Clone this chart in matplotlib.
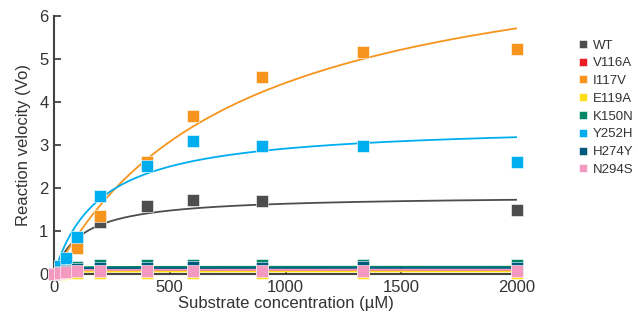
import matplotlib
matplotlib.use("Agg")
from matplotlib import pyplot as plt
import numpy as np

plt.rcParams["font.family"] = ["Liberation Sans", "DejaVu Sans"]
plt.rcParams["text.color"] = "#333333"
plt.rcParams["axes.labelcolor"] = "#333333"
plt.rcParams["xtick.color"] = "#333333"
plt.rcParams["ytick.color"] = "#333333"

# substrate concentrations (uM)
substrate = [0, 25, 50, 100, 200, 400, 600, 900, 1333, 2000]

variants = ["WT", "V116A", "I117V", "E119A", "K150N", "Y252H", "H274Y", "N294S"]
colors = ["#4d4d4d", "#ed1c24", "#f7941d", "#ffde17", "#00876a", "#00aeef", "#005a80", "#f49ac1"]

# measured reaction velocities (Vo)
wt    = [0, 0.15, 0.35, 0.75, 1.2, 1.58, 1.72, 1.7, np.nan, 1.5]
v116a = [0, 0.02, 0.04, 0.05, 0.05, 0.05, 0.06, 0.05, 0.06, 0.05]
i117v = [0, 0.12, 0.3, 0.6, 1.35, 2.6, 3.67, 4.57, 5.17, 5.23]
e119a = [0, 0.01, 0.02, 0.02, 0.02, 0.02, 0.02, 0.02, 0.02, 0.02]
k150n = [0, 0.05, 0.1, 0.16, 0.21, 0.21, 0.22, 0.21, 0.22, 0.21]
y252h = [0, 0.18, 0.37, 0.85, 1.81, 2.52, 3.09, 2.98, 2.98, 2.6]
h274y = [0, 0.04, 0.08, 0.12, 0.15, 0.15, 0.16, 0.15, 0.16, 0.15]
n294s = [0, 0.02, 0.05, 0.07, 0.08, 0.08, 0.08, 0.08, 0.08, 0.08]
velocities = [wt, v116a, i117v, e119a, k150n, y252h, h274y, n294s]

# Michaelis-Menten fit parameters (Vmax, Km)
vmax = [1.83, 0.08, 8.0, 0.06, 0.17, 3.5, 0.14, 0.1]
km = [120, 10, 800, 10, 10, 200, 10, 10]

fig = plt.figure(figsize=(6.38, 3.22), dpi=100)
ax = fig.add_axes([54 / 638, 48 / 322, 463 / 638, 258 / 322])

s_fit = np.linspace(0, 2000, 400)
for name, color, v, vm, k in zip(variants, colors, velocities, vmax, km):
    ax.plot(s_fit, vm * s_fit / (k + s_fit), color=color, lw=1.3, zorder=2)
for name, color, v in zip(variants, colors, velocities):
    ax.plot(substrate, v, "s", color=color, ms=8, mec="white", mew=0.4,
            label=name, clip_on=False, zorder=3)

ax.set_xlim(0, 2000)
ax.set_ylim(0, 6)
ax.set_xticks([0, 500, 1000, 1500, 2000])
ax.set_yticks([0, 1, 2, 3, 4, 5, 6])
ax.tick_params(direction="in", length=5, width=1.2, labelsize=12, pad=4)
for side in ["top", "right"]:
    ax.spines[side].set_visible(False)
for side in ["left", "bottom"]:
    ax.spines[side].set_color("#444444")
    ax.spines[side].set_linewidth(1.5)
ax.spines["bottom"].set_zorder(1)

ax.set_xlabel("Substrate concentration (\u00b5M)", fontsize=12, labelpad=1)
ax.set_ylabel("Reaction velocity (Vo)", fontsize=12, labelpad=6)

ax.legend(loc="upper left", bbox_to_anchor=(572 / 638, 1 - 34 / 322),
          bbox_transform=fig.transFigure, frameon=False, fontsize=9.5,
          handlelength=0.8, handletextpad=0.4, labelspacing=0.42,
          markerscale=0.7, borderaxespad=0)

plt.savefig("out.png", dpi=100)
